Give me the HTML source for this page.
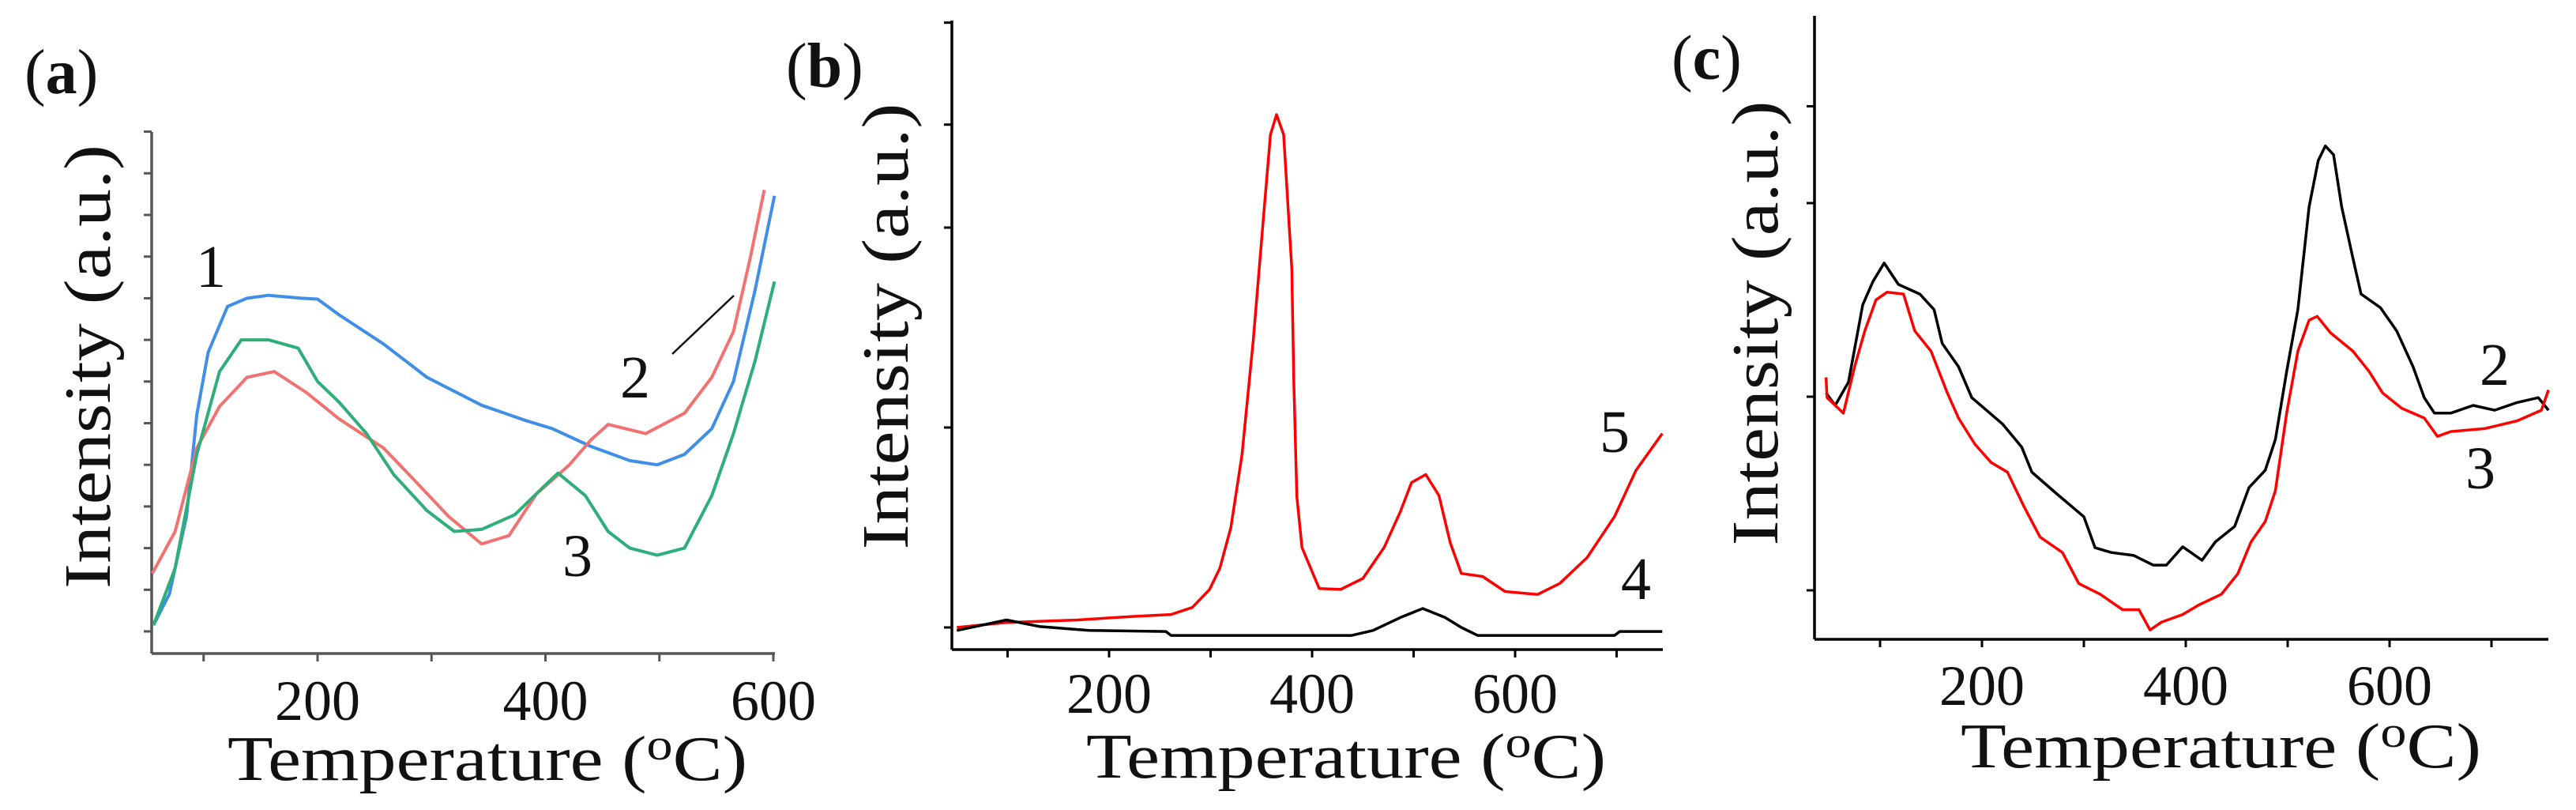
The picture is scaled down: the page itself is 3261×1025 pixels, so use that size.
<!DOCTYPE html>
<html><head><meta charset="utf-8"><style>
html,body{margin:0;padding:0;background:#fff;}
svg{display:block;}
text{font-family:"Liberation Serif",serif;fill:#111;}
</style></head><body>
<svg id="fig" width="3261" height="1025" viewBox="0 0 3261 1025" xmlns="http://www.w3.org/2000/svg">
<g id="pa"></g>
<g id="pb"></g>
<g id="pc"></g>
</svg>
<script>
// ---------- Panel (a) data ----------
const aTemps1 = [56,70,85,94,104,121,138,157,186,200,219,258,296,344,383,406,440,474,498,522,546,565,584,601];
const aVals1  = [0.15,0.9,2.76,5.2,6.7,7.8,8.0,8.07,8.0,7.98,7.6,6.9,6.1,5.43,5.06,4.87,4.44,4.1,4.0,4.25,4.87,6.0,8.2,10.46];
const aTemps2 = [55,75,94,114,138,162,190,219,258,286,315,344,368,392,421,440,455,488,522,546,565,580,592];
const aVals2  = [1.39,2.4,4.4,5.4,6.1,6.24,5.74,5.1,4.4,3.6,2.76,2.1,2.3,3.3,4.0,4.6,4.97,4.75,5.24,6.1,7.2,9.0,10.6];
const aTemps3 = [56,75,94,114,133,157,183,200,219,243,267,296,320,344,373,402,411,435,455,474,498,522,546,565,584,601];
const aVals3  = [0.15,1.52,4.25,6.24,7.0,7.0,6.8,6.0,5.5,4.75,3.76,2.9,2.4,2.45,2.8,3.57,3.8,3.26,2.4,2.0,1.83,2.0,3.26,4.75,6.5,8.4];
const aXTickLabels = ["200","400","600"];
const aXTickValues = [200,400,600];
const aXMinor = [100,300,500];
const aYTicks = [0,1,2,3,4,5,6,7,8,9,10,11,12];

// ---------- Panel (b) data ----------
const bTemps5 = [50,99,169,223,261,282,299,309,320,331,342,353,359,365,372,380,382,385,390,407,428,450,471,487,498,512,525,536,547,568,590,622,644,671,698,719,745];
const bVals5  = [0.0,0.05,0.075,0.11,0.13,0.2,0.38,0.59,1.0,1.73,2.87,4.21,4.93,5.13,4.93,3.59,2.45,1.31,0.8,0.39,0.38,0.49,0.8,1.16,1.45,1.53,1.32,0.85,0.54,0.51,0.36,0.33,0.44,0.7,1.11,1.57,1.94];
const bTemps4 = [50,99,131,180,256,261,439,460,487,509,531,547,563,698,703,745];
const bVals4  = [-0.03,0.075,0.01,-0.03,-0.04,-0.08,-0.08,-0.03,0.1,0.19,0.1,0.0,-0.08,-0.08,-0.04,-0.04];
const bXTickLabels = ["200","400","600"];
const bXTickValues = [200,400,600];
const bXMinor = [100,300,500,700];
const bYTicks = [0,2,4,5.03,6.05];

// ---------- Panel (c) data ----------
const cTemps2 = [47,56,69,83,93,104,118,139,153,161,177,190,220,239,249,273,300,311,327,349,368,381,397,416,429,448,462,478,488,499,510,521,530,537,545,553,564,572,591,607,623,634,644,660,682,703,725,746,756];
const cVals2  = [2.04,1.91,2.15,2.95,3.19,3.38,3.16,3.06,2.9,2.55,2.31,1.99,1.72,1.48,1.22,1.0,0.76,0.44,0.39,0.36,0.26,0.26,0.45,0.31,0.5,0.66,1.06,1.24,1.56,2.26,2.9,3.96,4.44,4.59,4.5,3.96,3.43,3.06,2.92,2.68,2.31,1.99,1.83,1.83,1.91,1.86,1.94,1.99,1.86];
const cTemps3 = [47,48,64,75,85,96,107,123,134,150,166,177,193,209,225,241,257,279,295,316,338,354,365,376,397,413,435,451,464,478,488,499,510,521,529,542,564,580,593,612,634,647,660,693,725,749,756];
const cVals3  = [2.2,1.99,1.83,2.31,2.68,3.0,3.08,3.06,2.68,2.47,2.04,1.78,1.51,1.32,1.22,0.87,0.55,0.39,0.07,-0.04,-0.2,-0.2,-0.41,-0.33,-0.25,-0.15,-0.04,0.17,0.5,0.71,1.03,1.83,2.47,2.79,2.83,2.66,2.47,2.26,2.04,1.88,1.78,1.59,1.64,1.67,1.75,1.86,2.07];
const cXTickLabels = ["200","400","600"];
const cXTickValues = [200,400,600];
const cXMinor = [100,300,500,700];
const cYTicks = [0,2,4,5];

const NS = "http://www.w3.org/2000/svg";
function mk(parent, tag, attrs, txt){
  const e = document.createElementNS(NS, tag);
  for (const k in attrs) e.setAttribute(k, attrs[k]);
  if (txt !== undefined) e.textContent = txt;
  parent.appendChild(e);
  return e;
}

function panel(gid, cfg){
  const g = document.getElementById(gid);
  const sx = t => cfg.x0 + t*cfg.kx;
  const sy = v => cfg.y0 - v*cfg.ky;
  const axc = cfg.axisColor;
  // axes
  const ya = mk(g,'line',{x1:cfg.axL,y1:cfg.axT,x2:cfg.axL,y2:cfg.axB,stroke:axc,'stroke-width':3.5});
  
  
  const xa = mk(g,'line',{x1:cfg.axL,y1:cfg.axB,x2:cfg.axR,y2:cfg.axB,stroke:axc,'stroke-width':3.5});
  
  
  cfg.yticks.forEach(v=>{
    const t = mk(g,'line',{x1:cfg.axL-10,y1:sy(v),x2:cfg.axL,y2:sy(v),stroke:axc,'stroke-width':3});
    
    
  });
  cfg.xminor.concat(cfg.xtv).forEach(v=>{
    const t = mk(g,'line',{x1:sx(v),y1:cfg.axB,x2:sx(v),y2:cfg.axB+10,stroke:axc,'stroke-width':3});
    
    
  });
  cfg.xtv.forEach((v,i)=>{
    const t = mk(g,'text',{x:sx(v),y:cfg.tickBase,'font-size':72,'text-anchor':'middle'},cfg.xtl[i]);
    
    
  });
  // titles
  const xt = mk(g,'text',{x:cfg.xtX,y:cfg.xtY,'font-size':80,textLength:cfg.xtW,lengthAdjust:'spacingAndGlyphs'});
  
  
  xt.innerHTML = 'Temperature (<tspan font-size="56" dy="-26">o</tspan><tspan dy="26">C)</tspan>';
  const yt = mk(g,'text',{x:0,y:0,'font-size':84,'text-anchor':'middle',textLength:cfg.ytW,lengthAdjust:'spacingAndGlyphs',transform:`translate(${cfg.ytX},${cfg.ytY}) rotate(-90)`},'Intensity (a.u.)');
  
  
  // panel letter
  const pl = mk(g,'text',{x:cfg.plX,y:cfg.plY,'font-size':80});
  
  
  pl.innerHTML = '(<tspan font-weight="bold">'+cfg.letter+'</tspan>)';
  // series
  cfg.series.forEach(s=>{
    const pts = s.t.map((t,i)=>sx(t).toFixed(1)+','+sy(s.v[i]).toFixed(1)).join(' ');
    const p = mk(g,'polyline',{points:pts,fill:'none',stroke:s.color,'stroke-width':s.w,'stroke-linejoin':'round'});
    
    
  });
  cfg.labels.forEach(l=>{
    const t = mk(g,'text',{x:l[0],y:l[1],'font-size':76,'text-anchor':'middle'},l[2]);
    
    
  });
  return g;
}

panel('pa',{x0:113.5,kx:1.4425,y0:799,ky:52.7,axL:192,axR:981,axT:167,axB:827,axisColor:'#555',
  yticks:aYTicks,xminor:aXMinor,xtv:aXTickValues,xtl:aXTickLabels,tickBase:911,
  xtX:288,xtY:987,xtW:658,ytX:139,ytY:464,ytW:562,plX:31,plY:118,letter:'a',
  series:[{t:aTemps1,v:aVals1,color:'#3f8fe8',w:4,name:'series-1-line'},
          {t:aTemps2,v:aVals2,color:'#f27272',w:4,name:'series-2-line'},
          {t:aTemps3,v:aVals3,color:'#2eae78',w:4,name:'series-3-line'}],
  labels:[[267,363,'1'],[804,503,'2'],[731,729,'3']]});
const lead = mk(document.getElementById('pa'),'line',{x1:851,y1:448,x2:929,y2:374,stroke:'#111','stroke-width':2.5});



panel('pb',{x0:1147,kx:1.285,y0:794,ky:126.5,axL:1205,axR:2105,axT:26,axB:822,axisColor:'#000',
  yticks:bYTicks,xminor:bXMinor,xtv:bXTickValues,xtl:bXTickLabels,tickBase:902,
  xtX:1375,xtY:984,xtW:658,ytX:1149,ytY:413,ytW:565,plX:995,plY:110,letter:'b',
  series:[{t:bTemps5,v:bVals5,color:'#ff0000',w:3.5,name:'series-5-line'},
          {t:bTemps4,v:bVals4,color:'#000',w:3.5,name:'series-4-line'}],
  labels:[[2044,572,'5'],[2071,758,'4']]});

panel('pc',{x0:2251,kx:1.29,y0:747,ky:122.5,axL:2297,axR:3226,axT:20,axB:809,axisColor:'#000',
  yticks:cYTicks,xminor:cXMinor,xtv:cXTickValues,xtl:cXTickLabels,tickBase:892,
  xtX:2482,xtY:971,xtW:659,ytX:2250,ytY:409,ytW:563,plX:2116,plY:100,letter:'c',
  series:[{t:cTemps2,v:cVals2,color:'#000',w:3.5,name:'series-2-line'},
          {t:cTemps3,v:cVals3,color:'#ff0000',w:3.5,name:'series-3-line'}],
  labels:[[3158,487,'2'],[3140,618,'3']]});
</script>
</body></html>
